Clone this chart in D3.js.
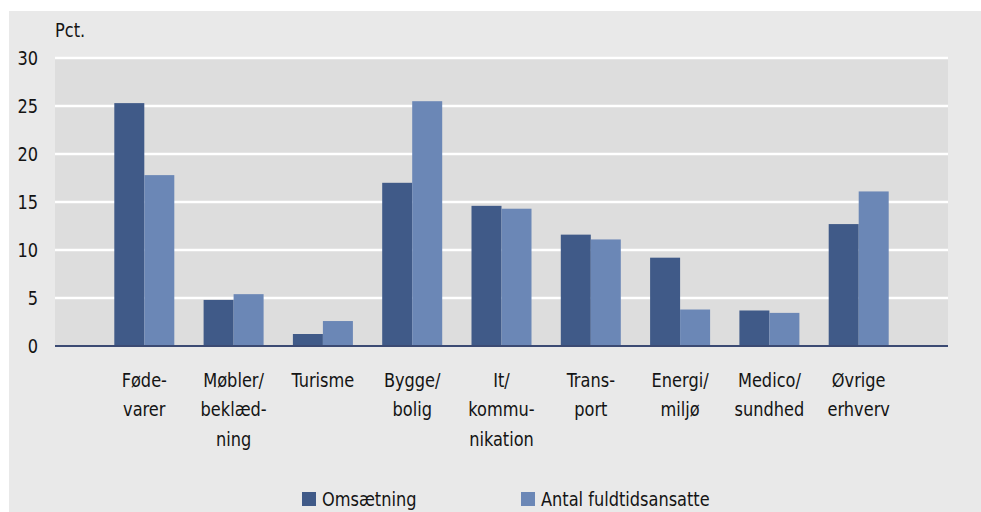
<!DOCTYPE html>
<html>
<head>
<meta charset="utf-8">
<script src="https://cdn.jsdelivr.net/npm/d3@7"></script>
<style>
  body { margin: 0; background: #fff; }
  text { font-family: "DejaVu Sans Condensed", "DejaVu Sans", sans-serif; font-size: 20px; fill: #141414; }
</style>
</head>
<body>
<div id="chart"></div>
<script>
// categories (line breaks as in the original)
var categories = [
  ["Føde-", "varer"],
  ["Møbler/", "beklæd-", "ning"],
  ["Turisme"],
  ["Bygge/", "bolig"],
  ["It/", "kommu-", "nikation"],
  ["Trans-", "port"],
  ["Energi/", "miljø"],
  ["Medico/", "sundhed"],
  ["Øvrige", "erhverv"]
];
var omsaetning = [25.3, 4.8, 1.25, 17.0, 14.6, 11.6, 9.2, 3.7, 12.7];
var ansatte    = [17.8, 5.4, 2.6, 25.5, 14.3, 11.1, 3.8, 3.45, 16.1];
var seriesNames = ["Omsætning", "Antal fuldtidsansatte"];
var yTicks = [0, 5, 10, 15, 20, 25, 30];

var W = 981, H = 512;
var plot = {left: 55, right: 948, top: 58, bottom: 346};
var colors = ["#405a88", "#6b87b6"];
var squeeze = 0.9; // the original font is a condensed face

var svg = d3.select("#chart").append("svg")
  .attr("width", W).attr("height", H);

// outer panel
svg.append("rect").attr("x", 9).attr("y", 11)
  .attr("width", W - 9).attr("height", H - 11)
  .attr("fill", "#e9e9e9");

// plot background
svg.append("rect")
  .attr("x", plot.left).attr("y", plot.top)
  .attr("width", plot.right - plot.left).attr("height", plot.bottom - plot.top)
  .attr("fill", "#dddddd");

var keys = categories.map(function(c) { return c.join(" "); });
var step = (plot.right - plot.left) / 10;
var x = d3.scalePoint()
  .domain(keys)
  .range([plot.left + step, plot.right - step])
  .padding(0);

var y = d3.scaleLinear().domain([0, 30]).range([plot.bottom, plot.top]);

// gridlines
svg.append("g").selectAll("line")
  .data(yTicks.filter(function(d) { return d > 0; }))
  .join("line")
  .attr("x1", plot.left).attr("x2", plot.right)
  .attr("y1", function(d) { return y(d); }).attr("y2", function(d) { return y(d); })
  .attr("stroke", "#ffffff").attr("stroke-width", 2.5);

// y labels
svg.append("g").selectAll("g")
  .data(yTicks)
  .join("g")
  .attr("transform", function(d) { return "translate(38," + y(d) + ") scale(" + squeeze + ",1)"; })
  .append("text")
  .attr("text-anchor", "end")
  .attr("dy", "0.36em")
  .text(function(d) { return d; });

svg.append("g")
  .attr("transform", "translate(" + plot.left + ",37) scale(" + squeeze + ",1)")
  .append("text")
  .text("Pct.");

// bars
var bw = 30;
var data = keys.map(function(k, i) { return {key: k, vals: [omsaetning[i], ansatte[i]]}; });
var groups = svg.append("g").selectAll("g")
  .data(data)
  .join("g")
  .attr("transform", function(d) { return "translate(" + x(d.key) + ",0)"; });

groups.selectAll("rect")
  .data(function(d) { return d.vals; })
  .join("rect")
  .attr("x", function(d, j) { return j === 0 ? -bw : 0; })
  .attr("y", function(d) { return y(d); })
  .attr("width", bw)
  .attr("height", function(d) { return y(0) - y(d); })
  .attr("fill", function(d, j) { return colors[j]; });

// zero line
svg.append("line")
  .attr("x1", plot.left).attr("x2", plot.right)
  .attr("y1", y(0)).attr("y2", y(0))
  .attr("stroke", "#3b4a73").attr("stroke-width", 2);

// category labels
var lab = svg.append("g").selectAll("text")
  .data(categories)
  .join("text")
  .attr("text-anchor", "middle")
  .attr("transform", function(d, i) { return "translate(" + x(keys[i]) + ",387) scale(" + squeeze + ",1)"; });
lab.selectAll("tspan")
  .data(function(d) { return d; })
  .join("tspan")
  .attr("x", 0)
  .attr("y", function(d, j) { return j * 29.5; })
  .text(function(d) { return d; });

// legend
var legX = [302, 521];
var leg = svg.append("g").selectAll("g")
  .data(seriesNames)
  .join("g")
  .attr("transform", function(d, i) { return "translate(" + legX[i] + ",492)"; });
leg.append("rect").attr("width", 14).attr("height", 14)
  .attr("fill", function(d, i) { return colors[i]; });
leg.append("text")
  .attr("transform", "translate(20,14) scale(" + squeeze + ",1)")
  .text(function(d) { return d; });
</script>
</body>
</html>
